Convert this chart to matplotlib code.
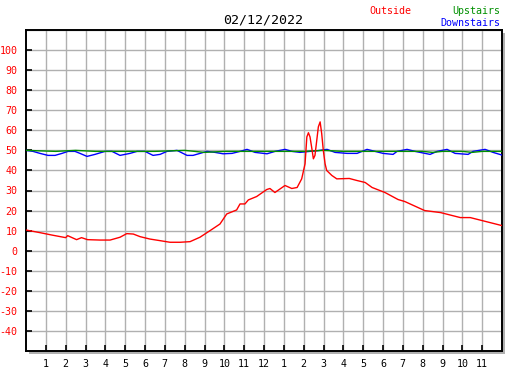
import matplotlib
matplotlib.use('Agg')
import matplotlib.pyplot as plt
from matplotlib.patches import Rectangle

# hours since midnight and temperatures
out_h = [0, 0.7, 1.3, 2.0, 2.1, 2.55, 2.8, 3.1, 3.73, 4.24, 4.74, 5.08, 5.41, 5.75,
         6.25, 6.76, 7.26, 7.77, 8.27, 8.77, 9.28, 9.78, 10.12, 10.62, 10.79, 11.04,
         11.21, 11.63, 12.14, 12.3, 12.55, 13.06, 13.4, 13.67, 13.9, 14.07, 14.16,
         14.24, 14.32, 14.4, 14.49, 14.57, 14.66, 14.74, 14.83, 14.91, 14.99, 15.08,
         15.16, 15.42, 15.67, 16.3, 16.68, 17.1, 17.45, 18.1, 18.76, 19.1, 20.1, 20.9,
         21.9, 22.4, 23.0, 24.0]
outside = [10.3, 9, 7.8, 6.5, 7.5, 5.5, 6.5, 5.5, 5.3, 5.3, 6.7, 8.5, 8.3, 7,
           5.8, 5, 4.2, 4.2, 4.5, 6.7, 10, 13.3, 18.3, 20.3, 23.3, 23.3,
           25.3, 27, 30.5, 31, 29, 32.5, 31, 31.5, 35.8, 43.3, 56.7,
           58.8, 56.7, 51.7, 45.8, 47.5, 55, 61.7, 64.2, 58.3, 50, 43.3,
           40, 37.5, 35.8, 36, 35, 34, 31.5, 29, 25.5, 24.5, 20, 19,
           16.5, 16.5, 15, 12.5]

down_x = [26, 33, 40, 48, 55, 62, 68, 75, 80, 87, 95, 105, 112, 120, 130, 137, 145,
          153, 160, 167, 177, 187, 193, 200, 207, 215, 223, 232, 240, 247, 255, 267,
          275, 285, 292, 300, 310, 320, 327, 335, 347, 357, 362, 367, 375, 383, 393,
          397, 407, 415, 420, 430, 437, 447, 455, 468, 473, 485, 493, 503]
downstairs = [50, 49.5, 48.5, 47.5, 47.5, 48.5, 49.5, 49.5, 48.5, 47, 48, 49.5, 49.5,
              47.5, 48.5, 49.5, 49.5, 47.5, 48, 49.5, 50, 47.5, 47.5, 48.5, 49.5, 49,
              48.3, 48.5, 49.5, 50.5, 49, 48.3, 49.5, 50.5, 49.5, 49, 49.5, 50, 50.5,
              49, 48.5, 48.5, 49.5, 50.5, 49.5, 48.5, 48, 49.5, 50.5, 49.5, 49, 48,
              49.5, 50.5, 48.5, 48, 49.5, 50.5, 49, 47.5]
down_h = [(x - 26) / 19.83 for x in down_x]

up_h = [0, 1.5, 2.5, 3.5, 5, 6.5, 8, 8.5, 9, 10, 11.5, 12.5, 13, 14, 15, 16, 17,
        18, 19, 20, 20.5, 21, 22, 22.5, 23, 24]
upstairs = [50, 49.5, 50, 49.5, 49.5, 49.5, 50, 49.5, 49, 49.5, 49.5, 49.5, 49.5,
            49.5, 50, 49.5, 49.5, 49.5, 49.5, 49.5, 49, 49.5, 49.5, 49, 49.5, 49.5]

hour_ticks = list(range(1, 24))
hour_labels = [str(h) for h in range(1, 13)] + [str(h) for h in range(1, 12)]
y_ticks = list(range(-40, 101, 10))

mono = 'DejaVu Sans Mono'
W, H = 527, 370
fig = plt.figure(figsize=(W / 100, H / 100), dpi=100)
L, R, T, B = 26, 502, 30, 351
ax = fig.add_axes([L / W, 1 - B / H, (R - L) / W, (B - T) / H])

# drop shadow behind the plot frame
fig.patches.append(Rectangle(((L + 3) / W, 1 - (B + 3) / H), (R - L) / W, (B - T) / H,
                             transform=fig.transFigure, facecolor='#b0b0b0',
                             edgecolor='none', zorder=-1))
ax.set_facecolor('white')

ax.plot(down_h, downstairs, color='#0000ff', lw=1.0, zorder=3)
ax.plot(up_h, upstairs, color='#009000', lw=1.0, zorder=4)
ax.plot(out_h, outside, color='#ff0000', lw=1.0, zorder=5)

ax.set_xlim(0, 24)
ax.set_ylim(-50, 110)
ax.set_xticks(hour_ticks)
ax.set_xticklabels(hour_labels, fontfamily=mono, fontsize=7.2)
ax.set_yticks(y_ticks)
ax.set_yticklabels([str(v) for v in y_ticks], fontfamily=mono, fontsize=7.2, color='red')
ax.set_yticks([110], minor=True)
ax.set_xticks([], minor=True)
ax.tick_params(axis='both', which='major', direction='in', length=4, width=1.2,
               color='black')
ax.tick_params(axis='y', pad=6)
ax.tick_params(axis='x', pad=6)
ax.tick_params(axis='y', which='minor', length=0)
ax.grid(True, which='both', color='#b0b0b0', lw=1.0)
ax.set_axisbelow(True)
for s in ax.spines.values():
    s.set_color('black')
    s.set_linewidth(1.4)

fig.text(263 / W, 1 - 20 / H, '02/12/2022', ha='center', va='center',
         fontfamily=mono, fontsize=9.5)
fig.text(369 / W, 1 - 11 / H, 'Outside', ha='left', va='center',
         fontfamily=mono, fontsize=7.2, color='#ff0000')
fig.text(500 / W, 1 - 11 / H, 'Upstairs', ha='right', va='center',
         fontfamily=mono, fontsize=7.2, color='#009000')
fig.text(500 / W, 1 - 23 / H, 'Downstairs', ha='right', va='center',
         fontfamily=mono, fontsize=7.2, color='#0000ff')

fig.savefig('out.png', dpi=100)
